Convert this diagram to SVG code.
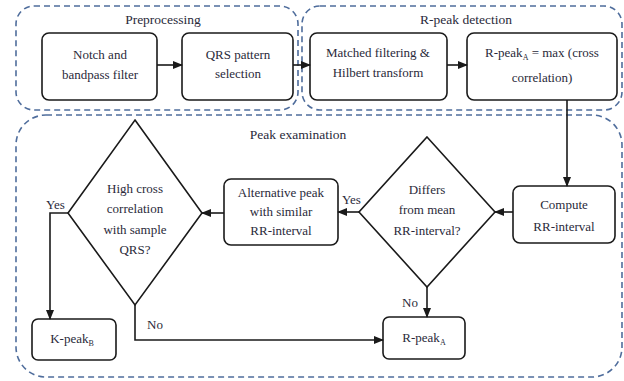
<svg xmlns="http://www.w3.org/2000/svg" width="624" height="381" viewBox="0 0 624 381">
<style>
.grp{fill:none;stroke:#4f6d9c;stroke-width:1.6;stroke-dasharray:6 4}
.box{fill:#fff;stroke:#1a1a1a;stroke-width:1.6}
.ln{fill:none;stroke:#1a1a1a;stroke-width:1.6}
text{font-family:"Liberation Serif";font-size:13px;fill:#2a2a3a;text-anchor:middle}
.gl{font-size:13.5px}
.lbl{text-anchor:start}
</style>
<defs>
<marker id="ah" markerWidth="10" markerHeight="10" refX="9" refY="5" orient="auto" markerUnits="userSpaceOnUse">
<path d="M0,1 L10,5 L0,9 Z" fill="#1a1a1a"/>
</marker>
</defs>
<rect width="624" height="381" fill="#fff"/>
<g id="group-preprocessing">
<rect class="grp" x="16" y="6" width="282" height="104" rx="18"/>
<text class="gl" x="163" y="24">Preprocessing</text>
</g>
<g id="group-rpeak-detection">
<rect class="grp" x="302" y="6" width="320" height="104" rx="18"/>
<text class="gl" x="466" y="24">R-peak detection</text>
</g>
<g id="group-peak-examination">
<rect class="grp" x="16" y="115" width="606" height="262" rx="30"/>
<text class="gl" x="298" y="139">Peak examination</text>
</g>
<g id="notch">
<rect class="box" x="42" y="33" width="115" height="67" rx="7"/>
<text x="100" y="59">Notch and</text>
<text x="100" y="79">bandpass filter</text>
</g>
<g id="qrs-selection">
<rect class="box" x="182" y="33" width="111" height="67" rx="7"/>
<text x="238" y="59">QRS pattern</text>
<text x="238" y="78">selection</text>
</g>
<g id="matched">
<rect class="box" x="310" y="33" width="137" height="67" rx="7"/>
<text x="378" y="57">Matched filtering &amp;</text>
<text x="378" y="77">Hilbert transform</text>
</g>
<g id="rpeak-max">
<rect class="box" x="467" y="33" width="150" height="67" rx="7"/>
<text x="542" y="57">R-peak<tspan font-size="8" dy="3">A</tspan><tspan dy="-3"> = max (cross</tspan></text>
<text x="542" y="82">correlation)</text>
</g>
<g id="compute">
<rect class="box" x="513" y="186" width="102" height="57" rx="7"/>
<text x="564" y="209">Compute</text>
<text x="564" y="231">RR-interval</text>
</g>
<g id="differs">
<polygon class="box" points="427,137 495,212 427,287 359,212"/>
<text x="427" y="194">Differs</text>
<text x="427" y="214">from mean</text>
<text x="427" y="235">RR-interval?</text>
</g>
<g id="alternative">
<rect class="box" x="224" y="179" width="114" height="66" rx="7"/>
<text x="281" y="197">Alternative peak</text>
<text x="281" y="216">with similar</text>
<text x="281" y="235">RR-interval</text>
</g>
<g id="high-cross">
<polygon class="box" points="135,120 202,213 135,305 68,213"/>
<text x="135" y="193">High cross</text>
<text x="135" y="213">correlation</text>
<text x="135" y="234">with sample</text>
<text x="135" y="254">QRS?</text>
</g>
<g id="rpeak-b">
<rect class="box" x="32" y="319" width="84" height="41" rx="6"/>
<text x="72" y="343">K-peak<tspan font-size="8" dy="3">B</tspan></text>
</g>
<g id="rpeak-a">
<rect class="box" x="383" y="317" width="82" height="42" rx="6"/>
<text x="424" y="342">R-peak<tspan font-size="8" dy="3">A</tspan></text>
</g>
<g id="connectors">
<line class="ln" x1="157" y1="65" x2="182" y2="65" marker-end="url(#ah)"/>
<line class="ln" x1="293" y1="65" x2="310" y2="65" marker-end="url(#ah)"/>
<line class="ln" x1="447" y1="65" x2="467" y2="65" marker-end="url(#ah)"/>
<line class="ln" x1="567" y1="100" x2="567" y2="186" marker-end="url(#ah)"/>
<line class="ln" x1="513" y1="212" x2="495" y2="212" marker-end="url(#ah)"/>
<line class="ln" x1="359" y1="212" x2="338" y2="212" marker-end="url(#ah)"/>
<line class="ln" x1="224" y1="213" x2="202" y2="213" marker-end="url(#ah)"/>
<polyline class="ln" points="68,213 50,213 50,319" marker-end="url(#ah)"/>
<polyline class="ln" points="135,305 135,340 383,340" marker-end="url(#ah)"/>
<line class="ln" x1="427" y1="287" x2="427" y2="317" marker-end="url(#ah)"/>
<text class="lbl" x="342" y="204">Yes</text>
<text class="lbl" x="46" y="209">Yes</text>
<text class="lbl" x="147" y="329">No</text>
<text class="lbl" x="402" y="307">No</text>
</g>
</svg>
